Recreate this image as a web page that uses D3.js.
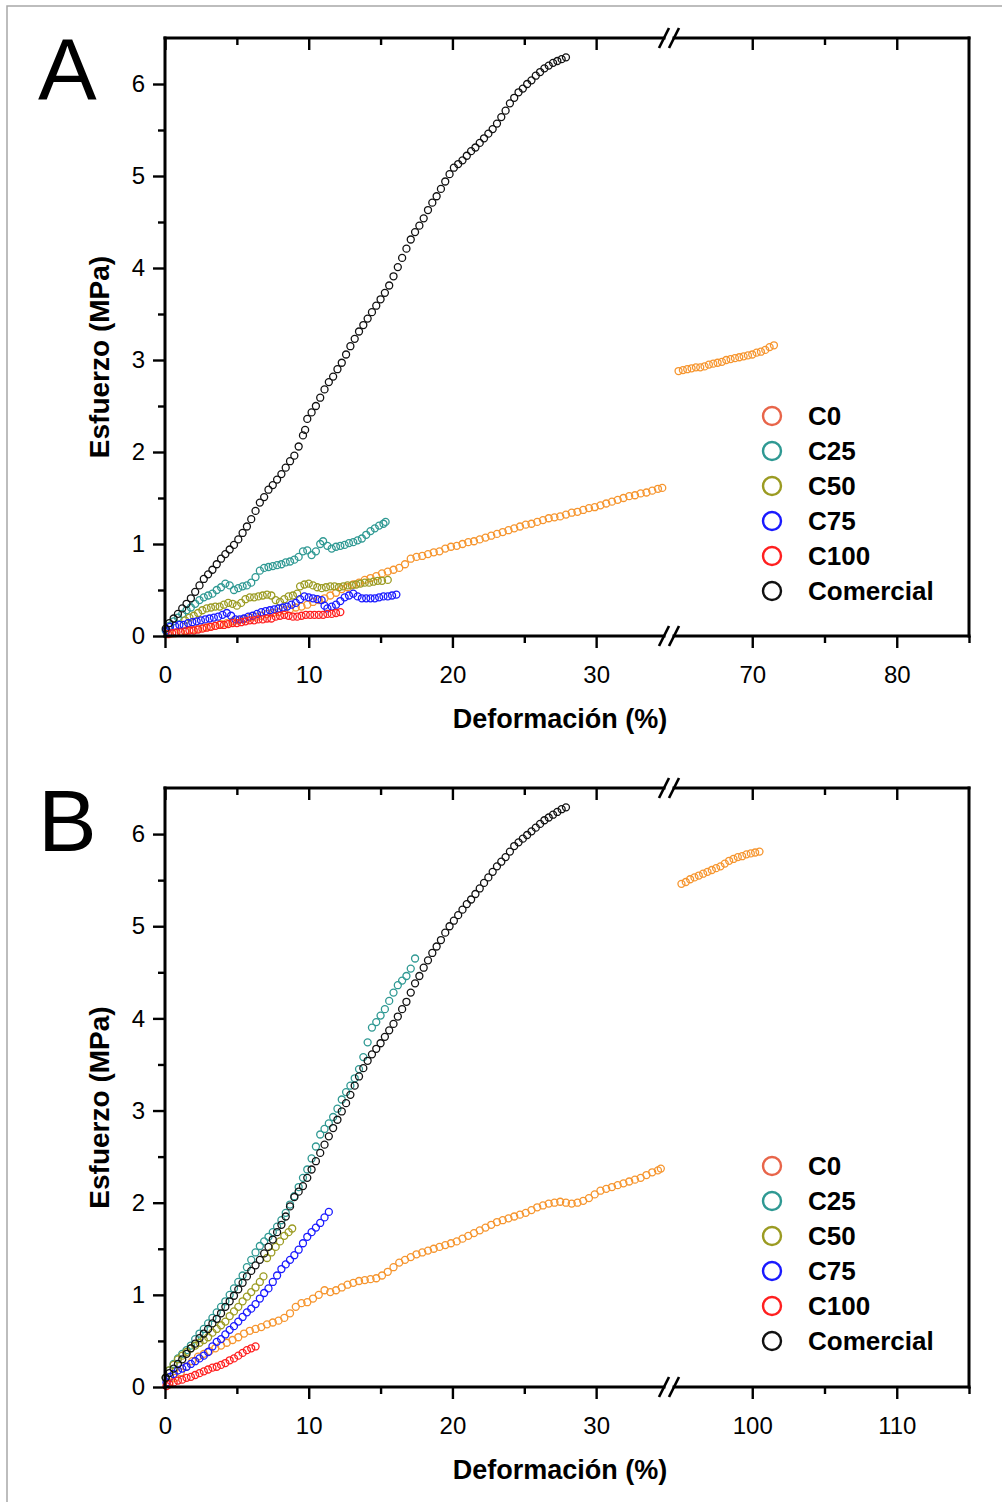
<!DOCTYPE html>
<html><head><meta charset="utf-8">
<script src="https://cdn.jsdelivr.net/npm/d3@7"></script>
<style>body{margin:0;background:#fff}text{font-family:"Liberation Sans",Arial,sans-serif}</style>
</head><body>
<svg id="c" width="1002" height="1502"></svg>
<script>
// ---------- data ----------
const seriesNames = ["C0", "C25", "C50", "C75", "C100", "Comercial"];
const dataColors = ["#f6952e", "#2f9993", "#9b9b22", "#1a1aff", "#ff1f1f", "#111111"];
const legendColors = ["#e8654a", "#2f9993", "#9b9b22", "#1a1aff", "#ff1f1f", "#111111"];
const yTickValues = [0, 1, 2, 3, 4, 5, 6];
const yMinorValues = [0.5, 1.5, 2.5, 3.5, 4.5, 5.5];
const xTicksLeft = [0, 10, 20, 30];
const xMinorLeft = [5, 15, 25];
const xTicksRightA = [70, 80];
const xMinorRightA = [75, 85];
const xTicksRightB = [100, 110];
const xMinorRightB = [105, 115];

// Panel A
const A_C0 = [[0.3,0.02],[0.7,0.03],[1.1,0.05],[1.5,0.06],[1.9,0.07],[2.3,0.08],[2.7,0.09],[3.1,0.10],[3.5,0.11],[3.9,0.13],[4.3,0.14],[4.7,0.16],[5.1,0.17],[5.5,0.18],[5.9,0.20],[6.3,0.21],[6.7,0.22],[7.1,0.24],[7.5,0.25],[7.9,0.26],[8.3,0.28],[8.7,0.29],[9.1,0.31],[9.5,0.32],[9.9,0.34],[10.3,0.37],[10.7,0.39],[11.1,0.41],[11.5,0.44],[11.9,0.47],[12.3,0.51],[12.7,0.53],[13.1,0.56],[13.5,0.58],[13.9,0.61],[14.3,0.63],[14.7,0.65],[15.1,0.68],[15.5,0.70],[15.9,0.72],[16.3,0.74],[16.7,0.78],[17.1,0.84],[17.5,0.86],[17.9,0.87],[18.3,0.89],[18.7,0.91],[19.1,0.92],[19.5,0.95],[19.9,0.97],[20.3,0.98],[20.7,1.00],[21.1,1.02],[21.5,1.03],[21.9,1.05],[22.3,1.07],[22.7,1.09],[23.1,1.11],[23.5,1.13],[23.9,1.15],[24.3,1.17],[24.7,1.19],[25.1,1.21],[25.5,1.22],[25.9,1.24],[26.3,1.26],[26.7,1.28],[27.1,1.29],[27.5,1.30],[27.9,1.32],[28.3,1.34],[28.7,1.35],[29.1,1.37],[29.5,1.39],[29.9,1.40],[30.3,1.42],[30.7,1.44],[31.1,1.46],[31.5,1.48],[31.9,1.50],[32.3,1.52],[32.7,1.53],[33.1,1.55],[33.5,1.56],[33.9,1.58],[34.3,1.60],[34.6,1.61],
  [64.9,2.88],[65.2,2.89],[65.5,2.90],[65.8,2.91],[66.1,2.92],[66.4,2.92],[66.7,2.93],[67.0,2.95],[67.3,2.96],[67.6,2.97],[67.9,2.98],[68.2,3.00],[68.5,3.01],[68.8,3.02],[69.1,3.03],[69.4,3.04],[69.7,3.05],[70.0,3.06],[70.3,3.08],[70.6,3.09],[70.9,3.11],[71.2,3.14],[71.5,3.16]];
const A_C25 = [[0.05,0.06],[0.3,0.11],[0.6,0.16],[0.9,0.20],[1.2,0.24],[1.5,0.28],[1.8,0.31],[2.1,0.35],[2.4,0.39],[2.7,0.42],[3.0,0.44],[3.3,0.46],[3.6,0.50],[3.9,0.53],[4.2,0.57],[4.5,0.55],[4.8,0.50],[5.1,0.52],[5.4,0.54],[5.7,0.55],[6.0,0.58],[6.3,0.64],[6.6,0.71],[6.9,0.74],[7.2,0.75],[7.5,0.76],[7.8,0.77],[8.1,0.78],[8.4,0.80],[8.7,0.81],[9.0,0.83],[9.3,0.86],[9.6,0.92],[9.9,0.93],[10.2,0.88],[10.5,0.92],[10.8,1.00],[11.0,1.03],[11.3,0.98],[11.6,0.95],[11.9,0.97],[12.2,0.98],[12.5,0.99],[12.8,1.01],[13.1,1.02],[13.4,1.04],[13.7,1.06],[14.0,1.10],[14.3,1.14],[14.6,1.17],[14.9,1.20],[15.2,1.22],[15.35,1.24]];
const A_C50 = [[1.4,0.17],[1.7,0.20],[2.0,0.22],[2.3,0.25],[2.6,0.28],[2.9,0.30],[3.2,0.31],[3.5,0.32],[3.8,0.32],[4.1,0.34],[4.4,0.36],[4.7,0.35],[5.0,0.33],[5.3,0.36],[5.6,0.40],[5.9,0.42],[6.2,0.42],[6.5,0.43],[6.8,0.44],[7.1,0.45],[7.4,0.44],[7.7,0.39],[8.0,0.37],[8.3,0.40],[8.6,0.43],[8.9,0.44],[9.2,0.46],[9.4,0.54],[9.7,0.56],[10.0,0.57],[10.3,0.55],[10.6,0.53],[10.9,0.52],[11.2,0.53],[11.5,0.54],[11.8,0.54],[12.1,0.53],[12.4,0.54],[12.7,0.55],[13.0,0.55],[13.3,0.56],[13.6,0.57],[13.9,0.58],[14.2,0.58],[14.5,0.59],[14.8,0.60],[15.1,0.60],[15.5,0.61]];
const A_C75 = [[0.1,0.06],[0.35,0.10],[0.7,0.11],[1.0,0.12],[1.3,0.12],[1.6,0.14],[1.9,0.15],[2.2,0.16],[2.5,0.17],[2.8,0.18],[3.1,0.19],[3.4,0.20],[3.7,0.21],[4.0,0.23],[4.3,0.25],[4.6,0.22],[4.9,0.18],[5.2,0.18],[5.5,0.19],[5.8,0.21],[6.1,0.22],[6.4,0.24],[6.7,0.26],[7.0,0.27],[7.3,0.28],[7.6,0.29],[7.9,0.30],[8.2,0.31],[8.5,0.32],[8.8,0.34],[9.1,0.36],[9.4,0.40],[9.7,0.43],[10.0,0.42],[10.3,0.41],[10.6,0.40],[10.9,0.39],[11.1,0.33],[11.3,0.30],[11.6,0.32],[11.9,0.34],[12.2,0.38],[12.5,0.42],[12.8,0.44],[13.1,0.46],[13.4,0.43],[13.7,0.41],[14.0,0.41],[14.3,0.41],[14.6,0.41],[14.9,0.42],[15.2,0.43],[15.5,0.43],[15.8,0.44],[16.1,0.45]];
const A_C100 = [[0.2,0.02],[0.5,0.03],[0.8,0.04],[1.1,0.04],[1.4,0.05],[1.7,0.06],[2.0,0.06],[2.3,0.07],[2.6,0.08],[2.9,0.09],[3.2,0.10],[3.5,0.11],[3.8,0.12],[4.1,0.12],[4.4,0.13],[4.7,0.14],[5.0,0.14],[5.3,0.15],[5.6,0.16],[5.9,0.17],[6.2,0.17],[6.5,0.18],[6.8,0.18],[7.1,0.19],[7.4,0.19],[7.7,0.21],[8.0,0.22],[8.3,0.23],[8.6,0.22],[8.9,0.21],[9.2,0.21],[9.5,0.22],[9.8,0.23],[10.1,0.23],[10.4,0.23],[10.7,0.23],[11.0,0.23],[11.3,0.24],[11.6,0.24],[11.9,0.25],[12.2,0.26]];
const A_Com = [[0.05,0.08],[0.3,0.14],[0.6,0.19],[0.9,0.24],[1.2,0.30],[1.5,0.35],[1.8,0.41],[2.1,0.48],[2.4,0.55],[2.7,0.62],[3.0,0.67],[3.3,0.72],[3.6,0.78],[3.9,0.84],[4.2,0.89],[4.5,0.94],[4.8,0.99],[5.1,1.05],[5.4,1.12],[5.7,1.19],[6.0,1.27],[6.3,1.36],[6.6,1.45],[6.9,1.51],[7.2,1.59],[7.5,1.64],[7.8,1.70],[8.1,1.76],[8.4,1.83],[8.7,1.90],[9.0,1.96],[9.3,2.06],[9.6,2.18],[9.75,2.24],[9.9,2.36],[10.2,2.43],[10.5,2.50],[10.8,2.59],[11.1,2.68],[11.4,2.76],[11.7,2.82],[12.0,2.90],[12.3,2.97],[12.6,3.06],[12.9,3.15],[13.2,3.23],[13.5,3.31],[13.8,3.38],[14.1,3.45],[14.4,3.52],[14.7,3.59],[15.0,3.66],[15.3,3.73],[15.6,3.81],[15.9,3.91],[16.2,4.01],[16.5,4.11],[16.8,4.21],[17.1,4.31],[17.4,4.39],[17.7,4.46],[18.0,4.54],[18.3,4.63],[18.6,4.71],[18.9,4.78],[19.2,4.86],[19.5,4.94],[19.8,5.02],[20.1,5.09],[20.4,5.13],[20.7,5.17],[21.0,5.22],[21.3,5.27],[21.6,5.31],[21.9,5.36],[22.2,5.41],[22.5,5.46],[22.8,5.51],[23.1,5.57],[23.4,5.64],[23.7,5.71],[24.0,5.79],[24.3,5.85],[24.6,5.91],[24.9,5.95],[25.2,6.00],[25.5,6.04],[25.8,6.09],[26.1,6.13],[26.4,6.17],[26.7,6.20],[27.0,6.23],[27.3,6.25],[27.6,6.27],[27.9,6.29]];

// Panel B
const B_C0 = [[0.3,0.05],[0.7,0.10],[1.1,0.16],[1.5,0.22],[1.9,0.28],[2.3,0.33],[2.7,0.36],[3.1,0.39],[3.5,0.42],[3.9,0.45],[4.3,0.48],[4.7,0.51],[5.1,0.54],[5.5,0.58],[5.9,0.61],[6.3,0.63],[6.7,0.65],[7.1,0.68],[7.5,0.70],[7.9,0.72],[8.3,0.75],[8.7,0.80],[9.1,0.87],[9.5,0.91],[9.9,0.92],[10.3,0.96],[10.7,1.00],[11.1,1.05],[11.5,1.03],[11.9,1.05],[12.3,1.08],[12.7,1.11],[13.1,1.13],[13.5,1.15],[13.9,1.16],[14.3,1.17],[14.7,1.18],[15.1,1.21],[15.5,1.25],[15.9,1.30],[16.3,1.35],[16.7,1.38],[17.1,1.41],[17.5,1.44],[17.9,1.46],[18.3,1.48],[18.7,1.50],[19.1,1.52],[19.5,1.54],[19.9,1.56],[20.3,1.58],[20.7,1.61],[21.1,1.64],[21.5,1.67],[21.9,1.70],[22.3,1.73],[22.7,1.76],[23.1,1.79],[23.5,1.81],[23.9,1.83],[24.3,1.85],[24.7,1.87],[25.1,1.89],[25.5,1.92],[25.9,1.95],[26.3,1.97],[26.7,1.99],[27.1,2.00],[27.5,2.01],[27.9,2.00],[28.3,1.99],[28.7,2.00],[29.1,2.02],[29.5,2.05],[29.9,2.09],[30.3,2.13],[30.7,2.15],[31.1,2.17],[31.5,2.19],[31.9,2.21],[32.3,2.23],[32.7,2.25],[33.1,2.27],[33.5,2.30],[33.9,2.33],[34.3,2.35],[34.5,2.37],
  [95.1,5.46],[95.4,5.48],[95.7,5.51],[96.0,5.53],[96.3,5.55],[96.6,5.57],[96.9,5.59],[97.2,5.61],[97.5,5.63],[97.8,5.65],[98.1,5.68],[98.4,5.71],[98.7,5.73],[99.0,5.75],[99.3,5.76],[99.6,5.78],[99.9,5.79],[100.2,5.80],[100.5,5.81]];
const B_C25 = [[0.05,0.10],[0.3,0.18],[0.6,0.25],[0.9,0.31],[1.2,0.36],[1.5,0.40],[1.8,0.45],[2.1,0.52],[2.4,0.58],[2.7,0.63],[3.0,0.69],[3.3,0.75],[3.6,0.81],[3.9,0.87],[4.2,0.93],[4.5,1.00],[4.8,1.07],[5.1,1.14],[5.4,1.21],[5.7,1.30],[6.0,1.38],[6.3,1.46],[6.6,1.53],[6.9,1.58],[7.2,1.63],[7.5,1.68],[7.8,1.74],[8.1,1.81],[8.4,1.89],[8.7,1.98],[9.0,2.07],[9.3,2.17],[9.6,2.27],[9.9,2.36],[10.2,2.48],[10.5,2.61],[10.8,2.74],[11.1,2.80],[11.4,2.86],[11.7,2.93],[12.0,3.02],[12.3,3.12],[12.6,3.20],[12.9,3.27],[13.2,3.35],[13.5,3.45],[13.8,3.58],[14.1,3.74],[14.4,3.90],[14.7,3.96],[15.0,4.03],[15.3,4.10],[15.6,4.19],[15.9,4.28],[16.2,4.36],[16.5,4.41],[16.8,4.46],[17.1,4.54],[17.4,4.65]];
const B_C50 = [[0.05,0.10],[0.3,0.18],[0.6,0.24],[0.9,0.30],[1.2,0.34],[1.5,0.38],[1.8,0.42],[2.1,0.45],[2.4,0.48],[2.7,0.51],[3.0,0.54],[3.3,0.59],[3.6,0.63],[3.9,0.67],[4.2,0.71],[4.5,0.77],[4.8,0.82],[5.1,0.87],[5.4,0.93],[5.7,0.98],[6.0,1.03],[6.3,1.08],[6.6,1.14],[6.85,1.20],[7.1,1.40],[7.4,1.46],[7.7,1.52],[8.0,1.58],[8.3,1.64],[8.6,1.68],[8.85,1.72]];
const B_C75 = [[0.1,0.05],[0.35,0.11],[0.6,0.14],[0.9,0.18],[1.2,0.20],[1.5,0.22],[1.8,0.25],[2.1,0.28],[2.4,0.31],[2.7,0.34],[3.0,0.38],[3.3,0.44],[3.6,0.49],[3.9,0.52],[4.2,0.57],[4.5,0.62],[4.8,0.66],[5.1,0.71],[5.4,0.76],[5.7,0.81],[6.0,0.85],[6.3,0.90],[6.6,0.96],[6.9,1.02],[7.2,1.07],[7.5,1.14],[7.8,1.21],[8.1,1.28],[8.4,1.33],[8.7,1.38],[9.0,1.43],[9.3,1.49],[9.6,1.56],[9.9,1.63],[10.2,1.68],[10.5,1.73],[10.8,1.78],[11.1,1.84],[11.4,1.90]];
const B_C100 = [[0.1,0.01],[0.3,0.03],[0.6,0.05],[0.9,0.07],[1.2,0.08],[1.5,0.10],[1.8,0.11],[2.1,0.13],[2.4,0.15],[2.7,0.17],[3.0,0.19],[3.3,0.21],[3.6,0.22],[3.9,0.24],[4.2,0.26],[4.5,0.29],[4.8,0.31],[5.1,0.34],[5.4,0.37],[5.7,0.40],[6.0,0.42],[6.3,0.44]];
const B_Com = [[0.05,0.10],[0.3,0.15],[0.6,0.20],[0.9,0.25],[1.2,0.30],[1.5,0.36],[1.8,0.42],[2.1,0.47],[2.4,0.53],[2.7,0.58],[3.0,0.63],[3.3,0.69],[3.6,0.74],[3.9,0.80],[4.2,0.87],[4.5,0.93],[4.8,0.99],[5.1,1.06],[5.4,1.13],[5.7,1.20],[6.0,1.26],[6.3,1.32],[6.6,1.38],[6.9,1.45],[7.2,1.52],[7.5,1.60],[7.8,1.68],[8.1,1.76],[8.4,1.85],[8.7,1.96],[9.0,2.06],[9.3,2.12],[9.6,2.18],[9.9,2.27],[10.2,2.36],[10.5,2.45],[10.8,2.54],[11.1,2.63],[11.4,2.72],[11.7,2.81],[12.0,2.90],[12.3,2.99],[12.6,3.08],[12.9,3.17],[13.2,3.27],[13.5,3.37],[13.8,3.46],[14.1,3.54],[14.4,3.61],[14.7,3.67],[15.0,3.73],[15.3,3.80],[15.6,3.87],[15.9,3.94],[16.2,4.02],[16.5,4.10],[16.8,4.18],[17.1,4.28],[17.4,4.38],[17.7,4.46],[18.0,4.55],[18.3,4.63],[18.6,4.71],[18.9,4.78],[19.2,4.85],[19.5,4.93],[19.8,5.00],[20.1,5.06],[20.4,5.12],[20.7,5.18],[21.0,5.24],[21.3,5.29],[21.6,5.35],[21.9,5.41],[22.2,5.47],[22.5,5.53],[22.8,5.59],[23.1,5.65],[23.4,5.70],[23.7,5.75],[24.0,5.81],[24.3,5.87],[24.6,5.91],[24.9,5.95],[25.2,5.99],[25.5,6.03],[25.8,6.07],[26.1,6.11],[26.4,6.15],[26.7,6.18],[27.0,6.21],[27.3,6.24],[27.6,6.27],[27.9,6.29]];

// ---------- drawing ----------
const svg = d3.select("#c");
svg.append("rect").attr("x", 7).attr("y", 6).attr("width", 1010).attr("height", 1510)
  .attr("fill", "#fff").attr("stroke", "#a8a8a8").attr("stroke-width", 1.5);

const panels = [
  { letter: "A", top: 38, bottom: 636, letterY: 100, rightDomain: [65, 85], rightMajor: xTicksRightA, rightMinor: xMinorRightA,
    series: [A_C0, A_C25, A_C50, A_C75, A_C100, A_Com] },
  { letter: "B", top: 788, bottom: 1387, letterY: 851, rightDomain: [95, 115], rightMajor: xTicksRightB, rightMinor: xMinorRightB,
    series: [B_C0, B_C25, B_C50, B_C75, B_C100, B_Com] }
];

const L = 165, R = 969, BRK = 668;

panels.forEach(p => {
  const g = svg.append("g");
  const xl = d3.scaleLinear().domain([0, 35]).range([L, BRK]);
  const xr = d3.scaleLinear().domain(p.rightDomain).range([680, R]);
  const y = d3.scaleLinear().domain([0, 6.5]).range([p.bottom, p.top]);
  const xPos = v => v <= 35 ? xl(v) : xr(v);

  // data markers
  p.series.forEach((pts, i) => {
    g.append("g").selectAll("circle").data(pts).join("circle")
      .attr("cx", d => xPos(d[0])).attr("cy", d => y(d[1])).attr("r", 3.5)
      .attr("fill", "none").attr("stroke", dataColors[i]).attr("stroke-width", 1.3);
  });

  function styleAxis(sel, withText) {
    sel.select(".domain").remove();
    sel.selectAll(".tick line").attr("stroke", "#000").attr("stroke-width", 2.4);
    if (!withText) sel.selectAll(".tick text").remove();
    else sel.selectAll(".tick text").attr("fill", "#000").attr("font-size", 24)
      .attr("font-family", "'Liberation Sans', Arial, sans-serif");
  }
  [[xl, xTicksLeft, xMinorLeft], [xr, p.rightMajor, p.rightMinor]].forEach(([sc, maj, min]) => {
    const gb = g.append("g").attr("transform", `translate(0,${p.bottom})`)
      .call(d3.axisBottom(sc).tickValues(maj).tickSize(12).tickPadding(18).tickFormat(d3.format("d")));
    styleAxis(gb, true);
    const gbm = g.append("g").attr("transform", `translate(0,${p.bottom})`)
      .call(d3.axisBottom(sc).tickValues(min).tickSize(7).tickFormat(""));
    styleAxis(gbm, false);
    const gt = g.append("g").attr("transform", `translate(0,${p.top})`)
      .call(d3.axisTop(sc).tickValues(maj).tickSize(-12).tickFormat(""));
    styleAxis(gt, false);
    const gtm = g.append("g").attr("transform", `translate(0,${p.top})`)
      .call(d3.axisTop(sc).tickValues(min.filter(v => v < sc.domain()[1])).tickSize(-7).tickFormat(""));
    styleAxis(gtm, false);
  });
  const gl = g.append("g").attr("transform", `translate(${L},0)`)
    .call(d3.axisLeft(y).tickValues(yTickValues).tickSize(12).tickPadding(8).tickFormat(d3.format("d")));
  styleAxis(gl, true);
  const glm = g.append("g").attr("transform", `translate(${L},0)`)
    .call(d3.axisLeft(y).tickValues(yMinorValues).tickSize(7).tickFormat(""));
  styleAxis(glm, false);

  const frame = g.append("g").attr("stroke", "#000").attr("stroke-width", 3).attr("stroke-linecap", "square");
  frame.append("line").attr("x1", L).attr("x2", L).attr("y1", p.top).attr("y2", p.bottom);
  frame.append("line").attr("x1", R).attr("x2", R).attr("y1", p.top).attr("y2", p.bottom);
  [p.top, p.bottom].forEach(yy => {
    frame.append("line").attr("x1", L).attr("x2", 664).attr("y1", yy).attr("y2", yy);
    frame.append("line").attr("x1", 674).attr("x2", R).attr("y1", yy).attr("y2", yy);
    [664, 674].forEach(bx => {
      g.append("line").attr("x1", bx - 5).attr("y1", yy + 10).attr("x2", bx + 5).attr("y2", yy - 10)
        .attr("stroke", "#000").attr("stroke-width", 2.6);
    });
  });

  g.append("text").attr("x", 560).attr("y", p.bottom + 92).attr("text-anchor", "middle")
    .attr("font-size", 27).attr("font-weight", "bold").text("Deformación (%)");
  g.append("text").attr("transform", `translate(109,${(p.top + p.bottom) / 2 + 20}) rotate(-90)`)
    .attr("text-anchor", "middle").attr("font-size", 28).attr("font-weight", "bold").text("Esfuerzo (MPa)");

  g.append("text").attr("x", 38).attr("y", p.letterY).attr("font-size", 88).text(p.letter);

  const lg = g.append("g").attr("transform", `translate(772,${p.top + 378})`);
  seriesNames.forEach((n, i) => {
    const row = lg.append("g").attr("transform", `translate(0,${i * 35})`);
    row.append("circle").attr("r", 9).attr("fill", "none").attr("stroke", legendColors[i]).attr("stroke-width", 2.4);
    row.append("text").attr("x", 36).attr("y", 0).attr("dy", "0.36em")
      .attr("font-size", 26).attr("font-weight", "bold").text(n);
  });
});
</script>
</body></html>
